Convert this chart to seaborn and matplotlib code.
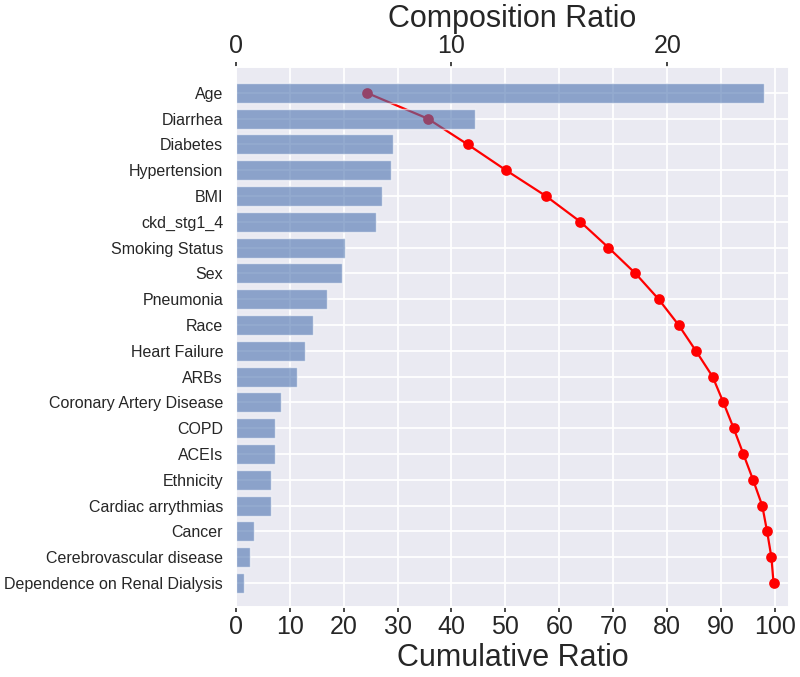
import matplotlib
matplotlib.use("Agg")
import matplotlib.pyplot as plt
import seaborn as sns
import pandas as pd

# Feature names, top to bottom
features = ["Age", "Diarrhea", "Diabetes", "Hypertension", "BMI", "ckd_stg1_4",
            "Smoking Status", "Sex", "Pneumonia", "Race", "Heart Failure", "ARBs",
            "Coronary Artery Disease", "COPD", "ACEIs", "Ethnicity",
            "Cardiac arrythmias", "Cancer", "Cerebrovascular disease",
            "Dependence on Renal Dialysis"]

# Composition ratio (top axis, bars)
composition = [24.5, 11.1, 7.3, 7.2, 6.8, 6.5, 5.05, 4.95, 4.25, 3.6, 3.2, 2.85,
               2.1, 1.8, 1.8, 1.65, 1.65, 0.85, 0.65, 0.4]

# Cumulative ratio (bottom axis, red line)
cumulative = [24.3, 35.6, 43.0, 50.1, 57.5, 63.9, 69.1, 74.1, 78.4, 82.1, 85.3,
              88.4, 90.4, 92.3, 94.1, 95.9, 97.6, 98.5, 99.3, 99.7]

df = pd.DataFrame({"feature": features, "composition": composition,
                   "cumulative": cumulative})

sns.set_theme(style="darkgrid")
plt.rcParams["font.family"] = ["Liberation Sans", "DejaVu Sans"]

fig = plt.figure(figsize=(8, 6.77), dpi=100)
ax = fig.add_axes([0.2946, 0.1034, 0.6919, 0.7976])

# cumulative line (drawn underneath the bars)
sns.pointplot(data=df, x="cumulative", y="feature", orient="h", color="red",
              markers="o", markersize=6.5, linewidth=1.6, ax=ax)
ax.set_xlim(0, 102.6)
ax.set_xticks(range(0, 101, 10))
ax.set_xlabel("Cumulative Ratio", fontsize=22, labelpad=3)
ax.set_ylabel("")
ax.tick_params(axis="x", labelsize=18, bottom=True, length=3.5, width=1.2,
               color=".15", pad=2)
ax.tick_params(axis="y", labelsize=11.5, left=False, pad=3)
ax.grid(True, color="white", linewidth=1.3)

# composition bars on a twin x axis at the top
ax2 = ax.twiny()
sns.barplot(data=df, x="composition", y="feature", orient="h", color="#4C72B0",
            saturation=1, alpha=0.6, width=0.78, ax=ax2)
ax2.set_xlim(0, 25.65)
ax2.set_xticks([0, 10, 20])
ax2.set_xlabel("Composition Ratio", fontsize=22, labelpad=5)
ax2.tick_params(axis="x", labelsize=18, top=True, length=3.5, width=1.2,
                color=".15", pad=3)
ax2.grid(False)
ax2.set_ylim(19.93, -1.0)
ax.set_ylim(19.93, -1.0)

fig.savefig("out.png", dpi=100)
